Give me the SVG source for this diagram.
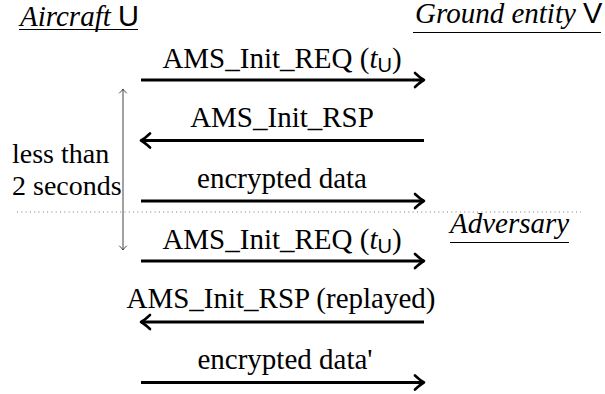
<svg xmlns="http://www.w3.org/2000/svg" width="605" height="394" viewBox="0 0 605 394">
<style>
  .msg { stroke: #000; stroke-width: 3; fill: none; }
  .ul { stroke: #000; stroke-width: 1; }
</style>
<defs>
  <marker id="ah" markerUnits="userSpaceOnUse" markerWidth="14" markerHeight="18" viewBox="-12 -9 14 18" refX="0" refY="0" orient="auto">
    <path d="M-9,-7 Q-3,-1.5 0,0 Q-3,1.5 -9,7" fill="none" stroke="#000" stroke-width="2.6" stroke-linecap="round" stroke-linejoin="round"/>
  </marker>
  <marker id="sh" markerUnits="userSpaceOnUse" markerWidth="8" markerHeight="10" viewBox="-6 -5 8 10" refX="0" refY="0" orient="auto-start-reverse">
    <path d="M-4,-3.5 Q-1.5,-0.8 0,0 Q-1.5,0.8 -4,3.5" fill="none" stroke="#444" stroke-width="1" stroke-linecap="round"/>
  </marker>
</defs>

<g id="aircraft">
  <text x="20" y="25.5" font-family="Liberation Serif" font-size="29"><tspan font-style="italic">Aircraft</tspan> <tspan font-family="Liberation Sans">U</tspan></text>
  <line class="ul" x1="19" y1="29.5" x2="138" y2="29.5"/>
</g>
<g id="ground">
  <text x="415" y="22.5" font-family="Liberation Serif" font-size="29"><tspan font-style="italic">Ground entity</tspan> <tspan font-family="Liberation Sans">V</tspan></text>
  <line class="ul" x1="413" y1="32.5" x2="601" y2="32.5"/>
</g>
<g id="adversary">
  <text x="450" y="233" font-family="Liberation Serif" font-size="29" font-style="italic">Adversary</text>
  <line class="ul" x1="450" y1="242.5" x2="569" y2="242.5"/>
</g>

<g id="timing">
  <line x1="123" y1="89" x2="123" y2="250" stroke="#444" stroke-width="1" fill="none" marker-start="url(#sh)" marker-end="url(#sh)"/>
  <text x="12" y="163" font-family="Liberation Serif" font-size="28">less than</text>
  <text x="12" y="195" font-family="Liberation Serif" font-size="28">2 seconds</text>
</g>

<line id="divider" x1="17" y1="212" x2="581" y2="212" stroke="#777" stroke-width="1" stroke-dasharray="1 3.3"/>

<g id="connectors">
  <g marker-end="url(#ah)">
    <line class="msg" x1="141" y1="80" x2="424" y2="80"/>
    <line class="msg" x1="424" y1="140.5" x2="141" y2="140.5"/>
    <line class="msg" x1="141" y1="201" x2="424" y2="201"/>
    <line class="msg" x1="141" y1="261" x2="424" y2="261"/>
    <line class="msg" x1="424" y1="322" x2="141" y2="322"/>
    <line class="msg" x1="141" y1="382.5" x2="424" y2="382.5"/>
  </g>
  <g font-family="Liberation Serif" font-size="29" text-anchor="middle" fill="#000">
    <text x="282" y="68" font-family="Liberation Serif">AMS_Init_REQ (<tspan font-style="italic">t</tspan><tspan font-family="Liberation Sans" font-size="20" dy="4">U</tspan><tspan dy="-4">)</tspan></text>
    <text x="282" y="127" font-family="Liberation Serif">AMS_Init_RSP</text>
    <text x="282" y="188" font-family="Liberation Serif">encrypted data</text>
    <text x="282" y="249" font-family="Liberation Serif">AMS_Init_REQ (<tspan font-style="italic">t</tspan><tspan font-family="Liberation Sans" font-size="20" dy="4">U</tspan><tspan dy="-4">)</tspan></text>
    <text x="281" y="308" font-family="Liberation Serif">AMS_Init_RSP (replayed)</text>
    <text x="285" y="369" font-family="Liberation Serif">encrypted data'</text>
  </g>
</g>
</svg>
